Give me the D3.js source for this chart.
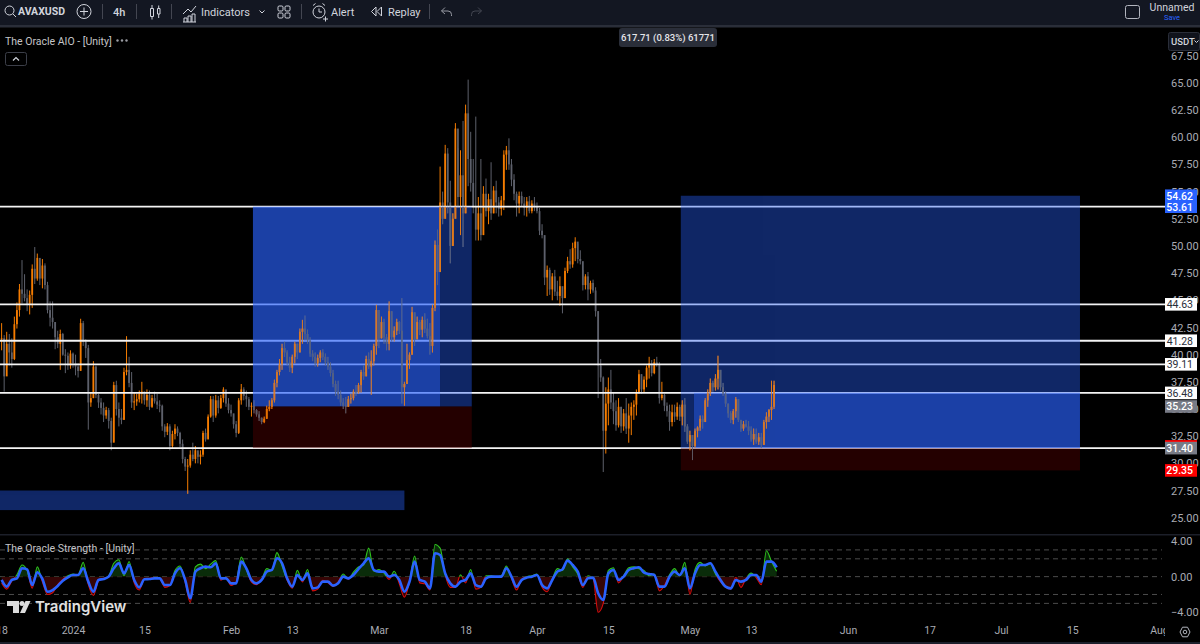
<!DOCTYPE html>
<html>
<head>
<meta charset="utf-8">
<title>AVAXUSD 4h</title>
<script src="https://cdn.jsdelivr.net/npm/d3@7"></script>
<style>
  html, body { margin: 0; padding: 0; background: #000; overflow: hidden; }
  svg { display: block; }
  text { font-family: Roboto, "Noto Sans", sans-serif; }
</style>
</head>
<body>
<svg id="chart" width="1200" height="644"></svg>
<script>
// Half-day price bars for AVAXUSD, first bar at seriesStart
const seriesStart = "2023-12-18";
const barHigh = [
  42.9,41.8,42.1,41.9,41.5,43.5,44.8,46.5,48.7,47.4,
  46,45.9,48.3,49.9,49.3,48.4,48.8,48.4,46.7,44.9,
  44.9,43,42.2,42.3,42,40.5,40.2,40.4,40.2,40,
  39.2,43.3,43.1,41.4,40.9,36.5,39.4,39,36.4,36,
  35.6,35.2,35.1,34.2,37.5,37.6,35.6,35,38.8,41.7,
  39.8,38.4,36.5,36.4,36.7,37.5,36.6,36.8,36.7,36.3,
  36.6,36.4,35.8,35.4,33.6,33.7,33.6,33,33.6,33.4,
  32.9,32.2,30.6,30.4,31.2,31.9,31.6,31,31.2,33,
  33.2,34.5,36.2,36.2,36.3,36.2,36.3,37,36.6,36,
  35.4,34.5,33.9,36,37.3,37,36.7,36.1,35.6,35.8,
  35,34.8,34.2,34.3,35.3,35.8,36,37.7,38.6,39.6,
  41,41.2,40.4,39.8,40,41.2,41,42.4,43.2,43.6,
  42.3,41.6,40.4,40.2,40,40.4,40.5,40.1,39.8,39.3,
  38.6,37.6,37.6,36.7,36,36.1,36.2,36.4,36.8,37.2,
  37.4,38.6,39,39.9,40.2,40.4,41,44.6,43.6,43.5,
  43.3,41.9,44.9,43.4,42.6,43.3,43.1,45.2,37.5,41,
  40.2,44.4,43.8,43.5,43.2,43.5,43.8,43.3,42.9,44.6,
  50.5,51.5,57.3,55,59.3,59,56,53,61.3,59,
  58.8,61.5,63,65.3,60.5,58,61.9,54.5,58,55.5,
  56.2,54.8,57.7,55.5,56,54.5,54.6,58.8,59.2,59.9,
  58,56.6,55,55,55,54.5,54.5,54.6,54.2,54.5,
  54,53.5,52,50.9,48.2,48,47.5,47.8,46.8,47.2,
  46,48,49,49.7,50.3,50.8,50.2,49.6,47.8,47.4,
  47.6,46.8,46.9,46.2,44,39.6,38,37,37.9,38.6,
  36.5,35.8,36,35.2,35,36,35.5,35.6,35.8,36.8,
  38.6,38.2,38,39,39.8,39.5,39.6,39.8,39.3,37.5,
  36.4,35.6,35.4,35.4,35.4,35.6,35.4,35.8,36,33.6,
  33,32.4,33.2,33.4,34.4,34.4,36,36.8,37.8,37.6,
  38.2,39.9,38.4,37.4,36.6,35.4,34.8,35,36.1,35.6,
  33.9,33.9,34,33.9,33.4,33.2,33.2,32.8,32.8,34,
  34.7,35,37.6,37.6
];
const barLow = [
  40.4,36.6,38.8,39,38.8,39.5,42.4,43.5,44.7,44.9,
  44,43.7,44.3,46.5,46.8,46.4,46.1,46,43.8,42.6,
  42.4,40.5,40.6,38.6,39.9,38.3,38.6,38.7,38.8,38.1,
  37.9,38.6,40.8,39.7,33.1,35.2,36,36,35.1,34.5,
  33.8,34.1,33.2,31.2,32,34.4,33.4,33.6,34,38.1,
  37,35.1,34.9,35.3,35.6,35.5,35.4,35.2,34.9,35.1,
  35.5,35,34.7,33,32.4,32.6,31.2,31.4,32.2,32.5,
  31.5,30,29.3,27.2,29.6,30.2,30,30,29.9,30.6,
  32,32.3,34.2,33.8,34.2,34.6,35,35.6,35.2,34.6,
  34.3,33.2,32.4,32.7,35.4,35.8,35.2,34.9,34.3,34.6,
  34.3,33.9,33.6,33.7,34.1,34.8,35,35.6,37,38.1,
  38.6,39.8,39,38.4,38.3,39.2,39.6,40.5,41,41.3,
  41,39.8,39.4,38.9,38.9,39.3,39.5,39,38.6,38,
  37,36.2,35.9,35.3,35,34.6,35.2,35.5,35.8,36.2,
  36.4,36.5,37.7,38.3,38.7,36.3,39,40,40.6,41.5,
  41,40.4,40.4,41.2,41.2,41.8,41.9,35.5,35.3,38.6,
  38.7,40,40.8,41.5,41.8,41.6,42,41.5,40,40.2,
  44,46.4,50.6,52,52.7,53,48.4,50,53,53.5,
  51,49.9,55,55.5,55,53,50.5,50.5,50.5,51,
  52.7,52,52.4,53,53,52.7,52.8,53.3,57,57,
  55.5,54.2,52.7,53,53.6,52.8,52.7,53,53,53.2,
  53,51,50.7,46.4,45.4,45.5,45,45.4,45,44.5,
  43.8,46,47.5,47.9,48,48.6,48.4,48.3,45.9,46,
  45,45.6,45.7,43.5,36,37.5,29.2,30.9,33.5,35,
  33.6,33,33.3,32.8,33,32.7,31.9,32.6,34,34.4,
  36.4,36.4,36.5,37,37.8,38,38.2,38.9,35.5,35.8,
  34.8,34.3,33,33.4,33.8,34,33.9,33.5,32.9,31.8,
  31.2,30.3,31.4,32.4,33,33.2,34,35.2,36.2,36.6,
  36.7,36.8,36.7,36.2,35.2,34.2,33.7,33.6,34.2,33.8,
  32.9,33,33.3,32.6,32,31.7,31.8,31.7,31.4,31.7,
  33.2,33.8,34,35
];
const barClose = [
  41.5,38,41,40.2,39.6,42.8,44.1,46,45.6,45.2,
  44.6,45.5,47.9,47,48.9,47,48.2,46.4,44.1,43.4,
  43,41.6,41,41.9,40,39.9,39,40.1,39.2,38.9,
  38.5,42.9,41.2,40.6,35.6,36,38.9,36.3,35.6,35.1,
  34.4,34.9,33.9,31.9,37.2,35,34.2,34,38.4,38.6,
  37.4,35.6,35.7,35.9,36.4,36.6,35.8,36.3,35.2,36,
  35.7,35.4,35.3,33.4,32.9,33.4,31.6,32.7,33.2,32.8,
  31.8,30.4,29.7,29.8,30.8,30.4,31.2,30.6,30.8,32.8,
  32.2,34.3,35.9,34.4,35.8,35.1,36,36.8,35.5,34.9,
  34.6,33.6,32.8,35.8,36.8,36.2,35.9,35.2,35.3,34.9,
  34.5,34.2,33.8,34.1,35,35.2,35.8,37.4,38.4,39.1,
  40.6,40.2,39.3,38.8,39.8,41,40.2,42.1,42.4,41.9,
  41.3,40.1,39.8,39.2,39.7,40.2,39.8,39.3,38.9,38.3,
  37.3,36.6,36.3,35.6,35.3,35.2,35.9,36,36.6,36.5,
  37.2,38.4,38,39.6,38.9,39.4,40.8,44.1,41.5,43,
  41.6,41,44,41.6,42.2,43,42.2,37,37.3,39.5,
  40,43.9,41.4,43,42.3,43.2,42.4,41.7,40.8,44.3,
  50.1,47.6,54,52.5,58.5,54,50,52.5,60.8,54.5,
  56.5,53,62.2,58,55.8,53.6,51.5,53,51,54.8,
  53.2,54.3,53,55.1,54,53.4,54.2,58.4,58.8,57.5,
  56.1,54.8,53.9,54.6,53.9,53.5,54.1,53.2,53.9,53.6,
  53.2,51.4,51,47.1,47.8,46,47.2,45.8,45.4,46.3,
  45.2,47.7,48.6,48.3,49.8,50.4,48.8,48.6,46.4,47.2,
  46,46.6,45.9,44,39,37.9,33,35.5,36.8,35.6,
  34.8,33.5,35.2,33.4,34.6,33.2,34.4,35.2,35.4,36.5,
  38.2,36.8,37.7,38.8,39.2,38.3,39.3,39.1,36,36.3,
  35.3,34.8,33.8,34.7,34.3,35.2,34.3,35.4,33.4,32,
  32.6,31.6,33,33.3,34.1,33.8,35.8,36.5,37.4,37,
  37.8,38.6,37,36.4,35.5,34.6,34,34.8,35.9,34,
  33.2,33.6,33.4,33,32.2,32.7,32,32.4,31.7,33.8,
  34.3,34.9,35.2,37.2
];

// Strength oscillator, one reading per day from seriesStart
const strengthSlow = [
  -.37,-1.12,-.37,-.19,.94,.82,-.94,.49,-.26,-1.69,-1.5,-1.05,-.45,-.07,.19,.19,.94,-.56,-1.69,-.37,
  -.26,0,.94,1.5,.37,1.31,-.37,-1.2,-.3,-.26,-.19,-.19,-.94,-.94,.37,.94,-.37,-2.43,.56,.94,
  1.12,1.05,1.5,-.19,-.19,-.75,-.75,1.69,.94,-.37,-.75,-.37,.56,.75,2.06,1.5,-.19,-1.12,.19,-.37,
  .37,-1.31,-1.2,-.56,-.56,-1.01,-.75,0,-.19,.19,.86,1.5,2.06,.75,.56,.56,0,.19,-.37,
  -1.69,-.56,1.69,-.37,-.56,-1.31,2.62,2.43,.37,-.75,-1.12,-.56,-.37,.37,-.94,-1.12,-.19,0,0,0,
  .94,0,-1.12,-.37,-.11,0,.19,-.94,-1.31,-.37,.56,.82,1.8,1.31,.56,-.94,-.19,-.11,-1.87,-2.62,
  .37,.75,-.37,0,.75,.94,1.05,.45,.3,.19,-1.12,-1.12,0,.56,.19,.94,-1.31,.37,1.31,1.31,
  1.5,.56,-.37,-1.12,-1.31,-.37,-.56,-.37,.19,.19,-.56,1.69,1.69,1.05
];
const strengthFast = [
  -.7,-1.4,-.5,.2,1.3,.7,-1.3,1.1,-.6,-2,-1.8,-.9,-.3,.1,.3,.2,1.6,-.9,-2.1,-.5,
  -.2,.1,1.5,1.9,.1,1.7,-.7,-1.5,-.3,-.2,-.1,-.2,-1.2,-1,.7,1.2,-.6,-2.9,1.1,1.4,
  .9,1.4,1.8,-.4,-.1,-1,-.6,2.2,.8,-.6,-.9,-.3,.9,.7,2.7,1.2,-.4,-1.3,.7,-.6,
  .8,-1.6,-1.4,-.4,-.7,-1.1,-.6,.3,-.3,.5,1.1,1.3,3.2,.6,.8,.4,-.3,.6,-.8,
  -2.3,-.6,2.3,-.7,-.8,-1.5,3.6,3.2,.2,-1.2,-1.2,.2,-.7,.8,-1.4,-1.2,.1,.1,0,.1,
  1.2,-.2,-1.5,-.3,0,.1,.3,-1.2,-1.7,-.3,.9,.7,2,1.1,.3,-1.2,.1,-.2,-4,-3,
  .7,1,-.7,.1,1,1.1,.9,.7,.1,.3,-1.6,-1,.2,.9,.1,1.6,-2,.8,1.6,1.2,
  1.5,.3,-.6,-1.2,-1.4,-.1,-1.2,-.2,.4,-.1,-.9,2.9,1.7,.6
];
const strengthGuides = [3, 2, 0, -2, -3];

// Axis labels
const priceTicks = [25,27.5,30,32.5,35,37.5,40,42.5,45,47.5,50,52.5,55,57.5,60,62.5,65,67.5];
const strengthTicks = [4, 0, -4];
const timeTickDates = ["2023-12-18","2024-01-01","2024-01-15","2024-02-01","2024-02-13","2024-03-01","2024-03-18","2024-04-01","2024-04-15","2024-05-01","2024-05-13","2024-06-01","2024-06-17","2024-07-01","2024-07-15","2024-08-01"];
const timeTickLabels = ["18","2024","15","Feb","13","Mar","18","Apr","15","May","13","Jun","17","Jul","15","Aug"];

// Horizontal levels and their axis tags
const levelValues = [53.61, 44.63, 41.28, 39.11, 36.48, 31.40];
const whiteTagValues = [44.63, 41.28, 39.11, 36.48];
const blueTagValues = [54.62, 53.61];
const greyTagValues = [35.23, 31.40];
const stopTagValue = 29.35;

// Position zones: start, end, upper price, lower price
const zoneStart = ["2024-02-05T07:00Z","2024-03-13T00:00Z","2024-02-05T07:00Z","2024-04-29T05:00Z","2024-05-01T19:00Z","2024-04-29T05:00Z","2024-04-29T05:00Z","2023-12-01T00:00Z"];
const zoneEnd   = ["2024-03-13T00:00Z","2024-03-19T05:00Z","2024-03-19T05:00Z","2024-07-16T12:00Z","2024-07-16T12:00Z","2024-05-01T19:00Z","2024-07-16T12:00Z","2024-03-06T00:00Z"];
const zoneTop   = [53.61,53.61,35.23,54.62,36.48,36.48,31.40,27.5];
const zoneBot   = [35.23,35.23,31.40,36.48,31.40,31.40,29.35,25.7];
const zoneKind  = ["bright","dark","stop","dark","bright","dark","stop","dark"];
const zoneColor = { bright: "rgba(41,98,255,.65)", dark: "rgba(41,98,255,.40)", stop: "rgba(90,0,0,.4)" };

const svg = d3.select("#chart");
const W = 1200, H = 644, plotRight = 1165;
const axisColor = "#a9abb3";
const tagFont = "10.5px";

const x = d3.scaleUtc()
  .domain([new Date("2024-01-01T00:00Z"), new Date("2024-08-01T00:00Z")])
  .range([73, 1159]);
const yPrice = d3.scaleLinear().domain([25, 65]).range([517.7, 82.9]);
const yStrength = d3.scaleLinear().domain([-4, 4]).range([612.3, 541]);

const startMs = Date.parse(seriesStart + "T00:00Z");
const barTime = i => new Date(startMs + i * 12 * 3600e3);
const dayTime = i => new Date(startMs + i * 24 * 3600e3);

svg.append("rect").attr("width", W).attr("height", H).attr("fill", "#000");

const defs = svg.append("defs");

// Clip the price pane
defs.append("clipPath").attr("id", "pricePane")
  .append("rect").attr("x", 0).attr("y", 28).attr("width", plotRight).attr("height", 506);

// Candles are drawn twice: plainly, then muted on top of the translucent zones
const zoneIdx = d3.range(zoneStart.length);
defs.append("clipPath").attr("id", "zoneArea")
  .selectAll("rect").data(zoneIdx).join("rect")
  .attr("x", i => x(new Date(zoneStart[i])))
  .attr("width", i => x(new Date(zoneEnd[i])) - x(new Date(zoneStart[i])))
  .attr("y", i => yPrice(zoneTop[i]))
  .attr("height", i => yPrice(zoneBot[i]) - yPrice(zoneTop[i]));

const barOpen = i => (i === 0 ? barClose[0] : barClose[i - 1]);
const upColor = "#f57c00", downColor = "#5d606b";
const barColor = i => (barClose[i] >= barOpen(i) ? upColor : downColor);

function drawCandles(parent, opacity) {
  const g = parent.append("g").attr("opacity", opacity);
  const idx = d3.range(barHigh.length);
  g.selectAll("line").data(idx).join("line")
    .attr("x1", i => x(barTime(i))).attr("x2", i => x(barTime(i)))
    .attr("y1", i => yPrice(barHigh[i])).attr("y2", i => yPrice(barLow[i]))
    .attr("stroke", barColor).attr("stroke-width", 1);
  g.selectAll("rect").data(idx).join("rect")
    .attr("x", i => x(barTime(i)) - 0.9).attr("width", 1.8)
    .attr("y", i => yPrice(Math.max(barOpen(i), barClose[i])))
    .attr("height", i => Math.max(0.8, Math.abs(yPrice(barOpen(i)) - yPrice(barClose[i]))))
    .attr("fill", barColor);
}

const pricePane = svg.append("g").attr("clip-path", "url(#pricePane)");
drawCandles(pricePane, 1);

// Support and resistance levels
pricePane.selectAll("line.level").data(levelValues).join("line")
  .attr("class", "level")
  .attr("x1", 0).attr("x2", plotRight)
  .attr("y1", d => yPrice(d)).attr("y2", d => yPrice(d))
  .attr("stroke", "#f4f4f4").attr("stroke-width", 1.8);

// Translucent zones
pricePane.selectAll("rect.zone").data(zoneIdx).join("rect")
  .attr("class", "zone")
  .attr("x", i => x(new Date(zoneStart[i])))
  .attr("width", i => x(new Date(zoneEnd[i])) - x(new Date(zoneStart[i])))
  .attr("y", i => yPrice(zoneTop[i]))
  .attr("height", i => yPrice(zoneBot[i]) - yPrice(zoneTop[i]))
  .attr("fill", i => zoneColor[zoneKind[i]]);

drawCandles(svg.append("g").attr("clip-path", "url(#zoneArea)"), 0.78);

// Price axis
const priceAxis = d3.axisRight(yPrice).tickValues(priceTicks).tickFormat(d3.format(".2f")).tickSize(0).tickPadding(0);
const pa = svg.append("g").attr("transform", "translate(1171,0)").call(priceAxis);
pa.select(".domain").remove();
pa.selectAll("text").attr("fill", axisColor).style("font-size", "11px").style("font-family", "Roboto, sans-serif");

// Axis tags
function tag(value, bg, fg, weight) {
  const yy = yPrice(value);
  const g = svg.append("g");
  g.append("rect").attr("x", 1165).attr("y", yy - 6.3).attr("width", 32).attr("height", 12.6).attr("fill", bg);
  g.append("text").attr("x", 1193).attr("y", yy + 3.8).attr("text-anchor", "end")
    .attr("fill", fg).attr("font-size", tagFont).attr("font-weight", weight).text(value.toFixed(2));
}
blueTagValues.forEach(v => tag(v, "#2962ff", "#fff", 500));
whiteTagValues.forEach(v => tag(v, "#fff", "#2a2e39", 400));
svg.append("rect").attr("x", 1165).attr("y", yPrice(31.40) - 8).attr("width", 32).attr("height", 4).attr("fill", "#ff0000");
greyTagValues.forEach(v => tag(v, "#787b86", "#fff", 500));
tag(stopTagValue, "#ff0000", "#fff", 500);

// Strength pane
const strengthPane = svg.append("g");
strengthPane.selectAll("line.guide").data(strengthGuides).join("line")
  .attr("class", "guide")
  .attr("x1", 0).attr("x2", 1162)
  .attr("y1", d => yStrength(d)).attr("y2", d => yStrength(d))
  .attr("stroke", "#4c4c4c").attr("stroke-width", 1).attr("stroke-dasharray", "5 4");

const zeroY = yStrength(0);
defs.append("clipPath").attr("id", "aboveZero").append("rect").attr("x", 0).attr("y", 530).attr("width", W).attr("height", zeroY - 530);
defs.append("clipPath").attr("id", "belowZero").append("rect").attr("x", 0).attr("y", zeroY).attr("width", W).attr("height", 90);

const strengthIdx = d3.range(strengthFast.length);
const fastArea = d3.area().x(i => x(dayTime(i))).y0(zeroY).y1(i => yStrength(strengthFast[i])).curve(d3.curveMonotoneX);
const fastLine = d3.line().x(i => x(dayTime(i))).y(i => yStrength(strengthFast[i])).curve(d3.curveMonotoneX);
const slowLine = d3.line().x(i => x(dayTime(i))).y(i => yStrength(strengthSlow[i])).curve(d3.curveMonotoneX);

[["aboveZero", "#0a2c0a", "#2fc41e"], ["belowZero", "#350505", "#d80c0c"]].forEach(([clip, fill, stroke]) => {
  const g = strengthPane.append("g").attr("clip-path", `url(#${clip})`);
  g.append("path").datum(strengthIdx).attr("d", fastArea).attr("fill", fill);
  g.append("path").datum(strengthIdx).attr("d", fastLine).attr("fill", "none").attr("stroke", stroke).attr("stroke-width", 1.1);
});
strengthPane.append("path").datum(d3.range(strengthSlow.length)).attr("d", slowLine)
  .attr("fill", "none").attr("stroke", "#2962ff").attr("stroke-width", 2.6);

const strengthAxis = d3.axisRight(yStrength).tickValues(strengthTicks)
  .tickFormat(d => (d < 0 ? "\u2212" : "") + Math.abs(d).toFixed(2)).tickSize(0).tickPadding(0);
const sa = svg.append("g").attr("transform", "translate(1171,0)").call(strengthAxis);
sa.select(".domain").remove();
sa.selectAll("text").attr("fill", axisColor).style("font-size", "11px").style("font-family", "Roboto, sans-serif");

// Time axis
const timeAxis = d3.axisBottom(x).tickValues(timeTickDates.map(d => new Date(d + "T00:00Z")))
  .tickFormat((d, i) => timeTickLabels[i]).tickSize(0).tickPadding(0);
const ta = svg.append("g").attr("transform", "translate(0,627)").call(timeAxis);
ta.select(".domain").remove();
ta.selectAll("text").attr("fill", axisColor).style("font-size", "10.5px").style("font-family", "Roboto, sans-serif");
// The August label runs under the settings corner
svg.append("rect").attr("x", 1165).attr("y", 622).attr("width", 35).attr("height", 18).attr("fill", "#000");

// Pane separators
svg.append("rect").attr("x", 0).attr("y", 534).attr("width", W).attr("height", 1.5).attr("fill", "#1c1f29");
svg.append("rect").attr("x", 0).attr("y", 642).attr("width", W).attr("height", 2).attr("fill", "#1c202b");

// Pane titles
svg.append("text").attr("x", 5).attr("y", 44.5).attr("fill", "#c5c5c8").attr("font-size", "10.5px").text("The Oracle AIO - [Unity]");
svg.selectAll("circle.dot").data([117.5, 122, 126.5]).join("circle").attr("class", "dot")
  .attr("cx", d => d).attr("cy", 40.5).attr("r", 1.2).attr("fill", "#9a9ca3");
svg.append("rect").attr("x", 5.5).attr("y", 52.5).attr("width", 21).attr("height", 13).attr("rx", 2)
  .attr("fill", "none").attr("stroke", "#3c3f49");
svg.append("path").attr("d", "M13 60.5 l3 -3 l3 3").attr("fill", "none").attr("stroke", "#d1d4dc").attr("stroke-width", 1.2);
svg.append("text").attr("x", 5).attr("y", 552).attr("fill", "#c5c5c8").attr("font-size", "10.5px").text("The Oracle Strength - [Unity]");

// Crosshair readout
svg.append("rect").attr("x", 619).attr("y", 28).attr("width", 98).attr("height", 19).attr("rx", 3).attr("fill", "#2a2e39");
svg.append("text").attr("x", 668).attr("y", 41).attr("text-anchor", "middle").attr("fill", "#e6e6ea")
  .attr("font-size", "9.5px").attr("font-weight", 500).text("617.71 (0.83%) 61771");

// Currency button
svg.append("rect").attr("x", 1168.5).attr("y", 32.5).attr("width", 31).attr("height", 18).attr("rx", 2)
  .attr("fill", "#10131c").attr("stroke", "#2a2e39");
svg.append("text").attr("x", 1171).attr("y", 45).attr("fill", "#d1d4dc").attr("font-size", "9.5px").attr("font-weight", 500).text("USDT");
svg.append("path").attr("d", "M1194.5 40.5 l2 2 l2 -2").attr("fill", "none").attr("stroke", "#d1d4dc");

// Settings gear
svg.append("path").attr("d", "M1180 632 l2.5 -4.8 h5 l2.5 4.8 l-2.5 4.8 h-5 z").attr("fill", "none").attr("stroke", "#b2b5be");
svg.append("circle").attr("cx", 1185).attr("cy", 632).attr("r", 1.8).attr("fill", "none").attr("stroke", "#b2b5be");

// Watermark
const wm = svg.append("g").attr("fill", "#dcdcdc");
wm.append("path").attr("d", "M7 601 h12 v12 h-6 v-7 h-6 z");
wm.append("circle").attr("cx", 22).attr("cy", 603.5).attr("r", 2.5);
wm.append("path").attr("d", "M25.5 601 h5 l-5.5 12 h-5 z");
wm.append("text").attr("x", 35).attr("y", 611.5).attr("font-size", "15px").attr("font-weight", 600)
  .style("font-family", "Inter, Roboto, sans-serif").attr("fill", "#e0e0e0").text("TradingView");

// Top toolbar
svg.append("rect").attr("width", W).attr("height", 25).attr("fill", "#131722");
svg.append("rect").attr("y", 25).attr("width", W).attr("height", 2.5).attr("fill", "#2a2e39");
const tb = svg.append("g").attr("fill", "none").attr("stroke", "#d1d4dc").attr("stroke-width", 1);
const label = (tx, ty, s, o = {}) => svg.append("text").attr("x", tx).attr("y", ty)
  .attr("fill", o.fill || "#d1d4dc").attr("font-size", o.size || "11px")
  .attr("font-weight", o.weight || 400).attr("text-anchor", o.anchor || "start").text(s);

tb.append("circle").attr("cx", 9.5).attr("cy", 10.5).attr("r", 4.5);
tb.append("path").attr("d", "M13 14 l3 3");
label(18, 15, "AVAXUSD", { weight: 700, size: "10.5px" });
tb.append("circle").attr("cx", 84).attr("cy", 11.5).attr("r", 7);
tb.append("path").attr("d", "M84 7.5 v8 M80 11.5 h8");
[102, 136, 171, 301, 429].forEach(sx => svg.append("rect").attr("x", sx).attr("y", 4).attr("width", 1).attr("height", 15).attr("fill", "#434651"));
label(113, 15.5, "4h", { weight: 500 });
tb.append("path").attr("d", "M150.5 8.5 h3 v8 h-3 z M152 5 v3.5 M152 16.5 v3 M157.5 8.5 h2.5 v5.5 h-2.5 z M158.7 5.5 v3 M158.7 14 v4");
tb.append("path").attr("d", "M183 14 l5 -5 l3 3 l5 -6 M184 22 v-4 h3 v4 M188 22 v-6 h3 v6 M192 22 v-8 h3 v8 M183 22 h13");
label(201, 15.5, "Indicators");
tb.append("path").attr("d", "M259.5 10.5 l2.5 2.5 l2.5 -2.5");
[[278, 6], [285, 6], [278, 13], [285, 13]].forEach(([gx, gy]) => tb.append("rect").attr("x", gx).attr("y", gy).attr("width", 5).attr("height", 5).attr("rx", 1.2));
tb.append("circle").attr("cx", 319).attr("cy", 12).attr("r", 6);
tb.append("path").attr("d", "M319 8.5 v3.5 h3 M313 5.5 l2.5 -2 M325 5.5 l-2.5 -2 M323 19 h5 M325.5 16.5 v5");
label(331, 15.5, "Alert");
tb.append("path").attr("d", "M376 7 l-4.5 4.5 l4.5 4.5 z M381.5 7 l-4.5 4.5 l4.5 4.5 z");
label(388, 15.5, "Replay");
const undo = "M445 7.5 l-3.5 3.5 l3.5 3 M441.5 11 h6.5 a3.5 3.5 0 0 1 3.5 3.5 v1.5";
tb.append("path").attr("d", undo).attr("stroke", "#9598a1");
tb.append("path").attr("d", "M478 7.5 l3.5 3.5 l-3.5 3 M481.5 11 h-6.5 a3.5 3.5 0 0 0 -3.5 3.5 v1.5").attr("stroke", "#434651");
tb.append("rect").attr("x", 1125.5).attr("y", 5.5).attr("width", 14).attr("height", 13).attr("rx", 2).attr("stroke", "#b2b5be");
label(1172, 11, "Unnamed", { size: "10.5px", anchor: "middle" });
label(1172, 19.5, "Save", { size: "7.5px", anchor: "middle", fill: "#2962ff" });
</script>
</body>
</html>
